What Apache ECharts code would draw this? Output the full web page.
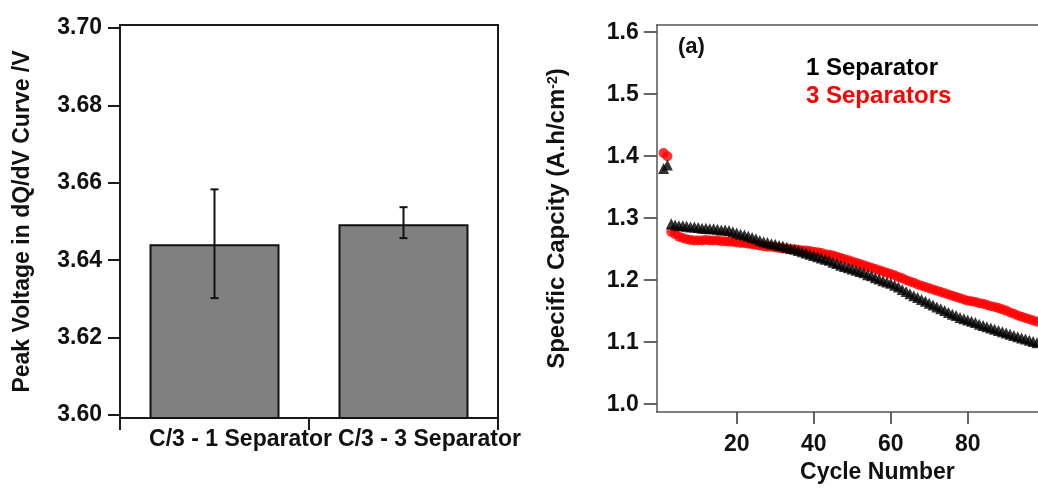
<!DOCTYPE html>
<html><head><meta charset="utf-8">
<script src="https://cdn.jsdelivr.net/npm/echarts@6/dist/echarts.min.js"></script>
<style>html,body{margin:0;padding:0;background:#fff}#c{width:1038px;height:489px}</style>
</head><body><div id="c"></div>
<script>
// ---- Left panel: peak voltage bars ----
const barCategories = ['C/3 - 1 Separator', 'C/3 - 3 Separator'];
const peakVoltage = [3.6441, 3.6493];
const peakLow = [3.6302, 3.6457];
const peakHigh = [3.6583, 3.6537];
const voltageTicks = [3.60, 3.62, 3.64, 3.66, 3.68, 3.70];

// ---- Right panel: specific capacity vs cycle ----
const cycleNumbers = [1,2,3,4,5,6,7,8,9,10,11,12,13,14,15,16,17,18,19,20,
  21,22,23,24,25,26,27,28,29,30,31,32,33,34,35,36,37,38,39,40,
  41,42,43,44,45,46,47,48,49,50,51,52,53,54,55,56,57,58,59,60,
  61,62,63,64,65,66,67,68,69,70,71,72,73,74,75,76,77,78,79,80,
  81,82,83,84,85,86,87,88,89,90,91,92,93,94,95,96,97,98,99,100];
const oneSeparator = [1.380,1.386,1.291,1.289,1.288,1.288,1.287,1.286,1.286,1.285,
  1.284,1.284,1.283,1.283,1.282,1.281,1.281,1.280,1.278,1.276,
  1.274,1.273,1.271,1.269,1.267,1.264,1.262,1.261,1.259,1.258,
  1.256,1.255,1.253,1.251,1.250,1.248,1.246,1.244,1.242,1.240,
  1.238,1.236,1.234,1.232,1.229,1.227,1.224,1.222,1.220,1.218,
  1.216,1.214,1.212,1.209,1.207,1.204,1.202,1.199,1.197,1.195,
  1.192,1.189,1.185,1.182,1.178,1.175,1.172,1.169,1.166,1.163,
  1.160,1.157,1.154,1.151,1.148,1.145,1.143,1.140,1.138,1.136,
  1.134,1.132,1.129,1.127,1.125,1.123,1.121,1.119,1.117,1.115,
  1.113,1.111,1.109,1.107,1.105,1.103,1.101,1.099,1.097,1.095];
const threeSeparators = [1.405,1.400,1.278,1.274,1.270,1.268,1.266,1.265,1.264,1.264,
  1.264,1.265,1.264,1.264,1.264,1.263,1.263,1.262,1.262,1.261,
  1.260,1.260,1.259,1.258,1.257,1.256,1.255,1.254,1.254,1.253,
  1.252,1.251,1.251,1.250,1.250,1.249,1.248,1.248,1.247,1.246,
  1.245,1.244,1.242,1.241,1.240,1.238,1.236,1.234,1.232,1.230,
  1.228,1.226,1.224,1.222,1.220,1.218,1.216,1.214,1.212,1.210,
  1.208,1.205,1.203,1.200,1.198,1.196,1.193,1.191,1.189,1.187,
  1.185,1.183,1.181,1.179,1.177,1.175,1.173,1.171,1.169,1.167,
  1.166,1.165,1.163,1.162,1.160,1.158,1.157,1.155,1.153,1.151,
  1.148,1.146,1.143,1.141,1.139,1.137,1.135,1.133,1.131,1.130];
const cycleTicks = [20, 40, 60, 80];
const capacityTicks = [1.0, 1.1, 1.2, 1.3, 1.4, 1.5, 1.6];

const FONT = "'Liberation Sans', Arial, sans-serif";
const chart = echarts.init(document.getElementById('c'), null, {renderer: 'canvas'});

const lblStyle = {fontFamily: FONT, fontWeight: 'bold', fontSize: 23, color: '#111'};
const nameStyle = {fontFamily: FONT, fontWeight: 'bold', fontSize: 23, color: '#111'};

const option = {
  animation: false,
  backgroundColor: '#fff',
  grid: [
    {left: 120, right: 540, top: 25, bottom: 71, show: true, borderColor: '#1a1a1a', borderWidth: 2, backgroundColor: 'transparent'},
    {left: 656.7, right: 0, top: 25, bottom: 71, show: false}
  ],
  xAxis: [
    {
      gridIndex: 0, type: 'category', data: barCategories, boundaryGap: true,
      axisLine: {show: true, lineStyle: {color: '#1a1a1a', width: 2}},
      axisTick: {show: true, length: 12, alignWithLabel: false, lineStyle: {color: '#1a1a1a', width: 2}},
      axisLabel: Object.assign({interval: 0, margin: 10, padding: [0, 0, 0, 52], align: 'center'}, lblStyle),
      splitLine: {show: false}
    },
    {
      gridIndex: 1, type: 'value', min: -0.78, max: 98.26,
      axisLine: {show: true, onZero: false, lineStyle: {color: '#555', width: 1.5}},
      axisTick: {show: true, length: 12, customValues: cycleTicks, lineStyle: {color: '#333', width: 1.5}},
      axisLabel: Object.assign({margin: 21, customValues: cycleTicks}, lblStyle),
      splitLine: {show: false},
      name: 'Cycle Number', nameLocation: 'middle', nameGap: 43,
      nameTextStyle: Object.assign({padding: [0, 0, 0, 60]}, nameStyle)
    },
    {
      gridIndex: 1, type: 'value', position: 'top', min: -0.78, max: 98.26,
      axisLine: {show: true, onZero: false, lineStyle: {color: '#555', width: 1.5}},
      axisTick: {show: false}, axisLabel: {show: false}, splitLine: {show: false}
    }
  ],
  yAxis: [
    {
      gridIndex: 0, type: 'value', min: 3.599225, max: 3.700775,
      axisLine: {show: true, lineStyle: {color: '#1a1a1a', width: 2}},
      axisTick: {show: true, length: 12, customValues: voltageTicks, lineStyle: {color: '#1a1a1a', width: 2}},
      axisLabel: Object.assign({margin: 18, customValues: voltageTicks, formatter: v => v.toFixed(2)}, lblStyle),
      splitLine: {show: false},
      name: 'Peak Voltage in dQ/dV Curve /V', nameLocation: 'middle', nameGap: 86, nameRotate: 90,
      nameTextStyle: nameStyle
    },
    {
      gridIndex: 1, type: 'value', min: 0.9873, max: 1.6116,
      axisLine: {show: true, onZero: false, lineStyle: {color: '#555', width: 1.5}},
      axisTick: {show: true, length: 13, customValues: capacityTicks, lineStyle: {color: '#333', width: 1.5}},
      axisLabel: Object.assign({margin: 18, customValues: capacityTicks, formatter: v => v.toFixed(1)}, lblStyle),
      splitLine: {show: false},
      name: 'Specific Capcity (A.h/cm{sup|-2})', nameLocation: 'middle', nameGap: 87, nameRotate: 90,
      nameTextStyle: {
        fontFamily: FONT, fontWeight: 'bold', fontSize: 24, color: '#111',
        rich: {sup: {fontFamily: FONT, fontWeight: 'bold', fontSize: 14, color: '#111', padding: [0, 0, 10, 0]}}
      }
    }
  ],
  series: [
    {
      type: 'bar', xAxisIndex: 0, yAxisIndex: 0, data: peakVoltage, barWidth: 130,
      itemStyle: {color: '#808080', borderColor: '#111', borderWidth: 2}
    },
    {
      type: 'custom', xAxisIndex: 0, yAxisIndex: 0, z: 10,
      data: barCategories.map((c, i) => [i, peakLow[i], peakHigh[i]]),
      renderItem: function (params, api) {
        const lo = api.coord([api.value(0), api.value(1)]);
        const hi = api.coord([api.value(0), api.value(2)]);
        const w = 4;
        const st = {stroke: '#111', lineWidth: 2};
        return {type: 'group', children: [
          {type: 'line', shape: {x1: lo[0], y1: lo[1], x2: hi[0], y2: hi[1]}, style: st},
          {type: 'line', shape: {x1: lo[0] - w, y1: lo[1], x2: lo[0] + w, y2: lo[1]}, style: st},
          {type: 'line', shape: {x1: hi[0] - w, y1: hi[1], x2: hi[0] + w, y2: hi[1]}, style: st}
        ]};
      }
    },
    {
      name: '3 Separators', type: 'scatter', xAxisIndex: 1, yAxisIndex: 1,
      data: cycleNumbers.map((c, i) => [c, threeSeparators[i]]),
      symbol: 'circle', symbolSize: 10, itemStyle: {color: '#ff0000'}, z: 3
    },
    {
      name: '1 Separator', type: 'scatter', xAxisIndex: 1, yAxisIndex: 1,
      data: cycleNumbers.map((c, i) => [c, oneSeparator[i]]),
      symbol: 'triangle', symbolSize: 11, itemStyle: {color: '#000'}, z: 4
    }
  ],
  graphic: [
    {type: 'text', left: 678, top: 36, style: {text: '(a)', fontFamily: FONT, fontWeight: 'bold', fontSize: 22, fill: '#111'}},
    {type: 'text', left: 806, top: 56, style: {text: '1 Separator', fontFamily: FONT, fontWeight: 'bold', fontSize: 24, fill: '#000'}},
    {type: 'text', left: 806, top: 84, style: {text: '3 Separators', fontFamily: FONT, fontWeight: 'bold', fontSize: 24, fill: '#ff0000'}}
  ]
};
chart.setOption(option);
</script>
</body></html>
